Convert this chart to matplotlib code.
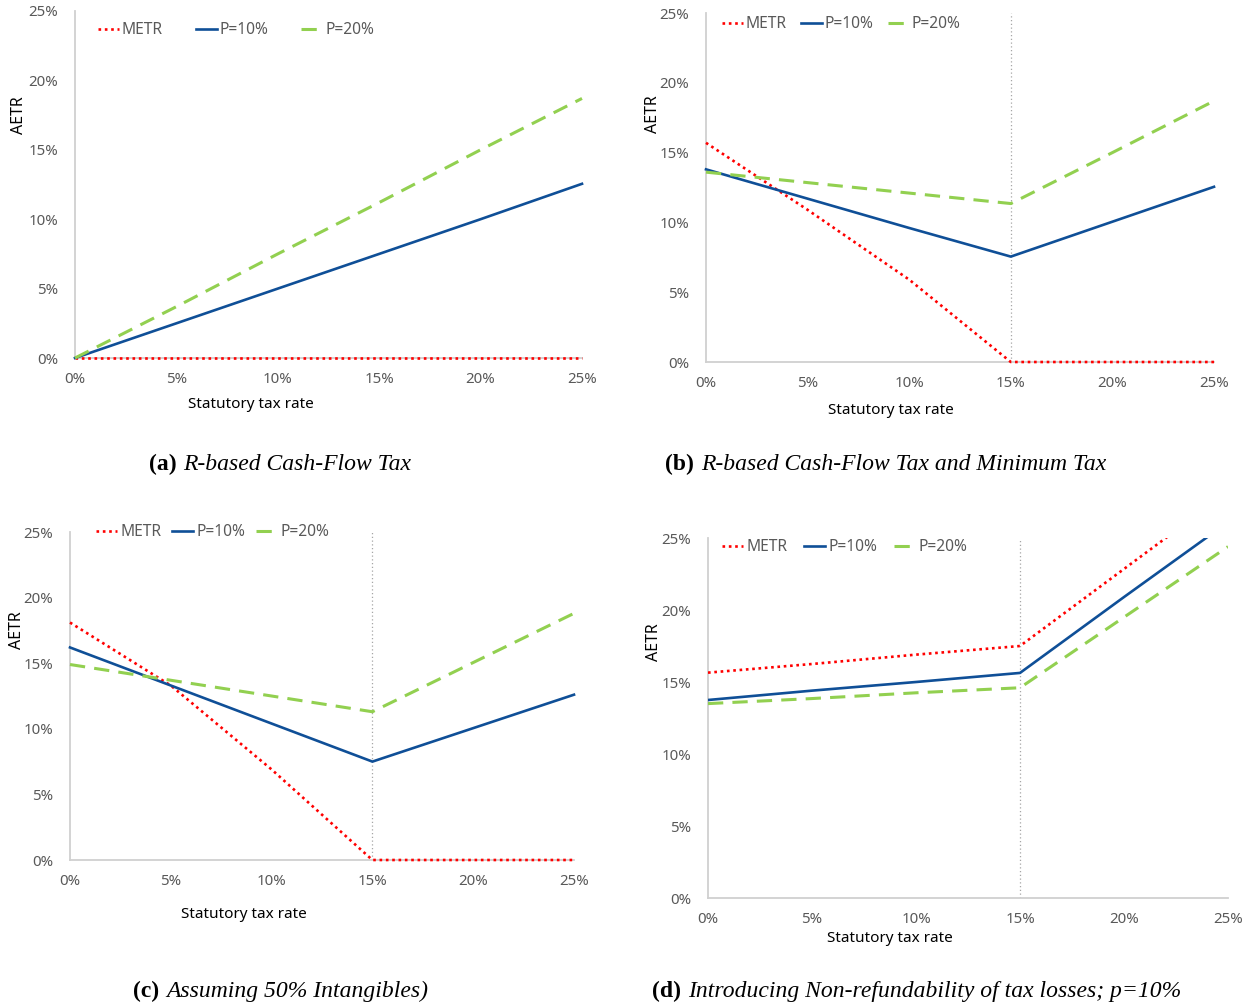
import matplotlib
matplotlib.use("Agg")
import matplotlib.pyplot as plt
from matplotlib.offsetbox import TextArea, HPacker, AnnotationBbox

plt.rcParams['font.family'] = ['Noto Sans', 'DejaVu Sans']

# ---------------- data ----------------
rates = [0, 5, 10, 15, 20, 25]          # statutory tax rate (%)
xticks = [0, 5, 10, 15, 20, 25]
yticks = [0, 5, 10, 15, 20, 25]
series_names = ["METR", "P=10%", "P=20%"]

# (a) R-based Cash-Flow Tax
a_metr = [0, 0, 0, 0, 0, 0]
a_p10 = [0, 2.5, 5.0, 7.5, 10.0, 12.55]
a_p20 = [0, 3.7, 7.5, 11.2, 15.0, 18.7]

# (b) R-based Cash-Flow Tax and Minimum Tax
b_metr = [15.7, 10.9, 5.9, 0, 0, 0]
b_p10 = [13.8, 11.7, 9.6, 7.55, 10.05, 12.55]
b_p20 = [13.6, 12.85, 12.1, 11.35, 15.0, 18.7]

# (c) Assuming 50% Intangibles
c_metr = [18.1, 13.3, 6.9, 0, 0, 0]
c_p10 = [16.2, 13.3, 10.4, 7.5, 10.05, 12.6]
c_p20 = [14.9, 13.7, 12.5, 11.3, 15.05, 18.8]

# (d) Introducing Non-refundability of tax losses; p=10%
d_metr = [15.65, 16.25, 16.9, 17.5, 22.85, 28.2]
d_p10 = [13.75, 14.4, 15.0, 15.63, 20.9, 26.1]
d_p20 = [13.5, 13.85, 14.25, 14.6, 19.5, 24.4]

min_tax_rate = 15

captions = [("(a)", "R-based Cash-Flow Tax"),
            ("(b)", "R-based Cash-Flow Tax and Minimum Tax"),
            ("(c)", "Assuming 50% Intangibles)"),
            ("(d)", "Introducing Non-refundability of tax losses; p=10%")]

# ---------------- layout ----------------
W, H = 1250, 1006
fig = plt.figure(figsize=(W / 100, H / 100), dpi=100)

def px_axes(l, r, t, b):
    return fig.add_axes([l / W, 1 - b / H, (r - l) / W, (b - t) / H])

panels = [
    dict(box=(75, 582, 11, 358), data=(a_metr, a_p10, a_p20), vline=False,
         leg=(0.045, 0.945, 2.1), xlab=(0.347, -46), ylab=(-56, 0.70),
         cap=(280, 464)),
    dict(box=(706, 1214, 13, 362), data=(b_metr, b_p10, b_p20), vline=True,
         leg=(0.031, 0.968, 0.9), xlab=(0.364, -48), ylab=(-53, 0.71),
         cap=(886, 464)),
    dict(box=(70, 574, 532, 860), data=(c_metr, c_p10, c_p20), vline=True,
         leg=(0.052, 1.0, 0.7), xlab=(0.345, -55), ylab=(-53, 0.70),
         cap=(281, 991)),
    dict(box=(708, 1228, 538, 898), data=(d_metr, d_p10, d_p20), vline=True,
         leg=(0.027, 0.975, 1.1), xlab=(0.35, -40), ylab=(-54, 0.71),
         cap=(917, 991)),
]

red = '#FF0000'
blue = '#0F4F97'
green = '#92D050'
grey_txt = '#595959'
spine_col = '#D0D0D0'

for p, cap in zip(panels, captions):
    l, r, t, b = p['box']
    ax = px_axes(l, r, t, b)
    hpx = b - t
    metr, p10, p20 = p['data']
    clip = max(max(metr), max(p10), max(p20)) > 25
    if p['vline']:
        ax.axvline(min_tax_rate, color='#A6A6A6', lw=0.9,
                   linestyle=(0, (1, 2)), zorder=1)
    ax.plot(rates, metr, color=red, lw=1.9, linestyle=(0, (1, 1.4)),
            label=series_names[0], zorder=4, clip_on=clip)
    ax.plot(rates, p10, color=blue, lw=1.9, linestyle='-',
            label=series_names[1], zorder=4, clip_on=clip)
    ax.plot(rates, p20, color=green, lw=2.2, linestyle=(0, (5.0, 3.0)),
            label=series_names[2], zorder=4, clip_on=clip)
    ax.set_xlim(0, 25)
    ax.set_ylim(0, 25)
    ax.set_xticks(xticks)
    ax.set_yticks(yticks)
    ax.set_xticklabels([f"{v}%" for v in xticks])
    ax.set_yticklabels([f"{v}%" for v in yticks])
    ax.tick_params(length=0, labelsize=10.8, labelcolor=grey_txt)
    ax.tick_params(axis='x', pad=10)
    ax.tick_params(axis='y', pad=12)
    for s in ['top', 'right']:
        ax.spines[s].set_visible(False)
    for s in ['left', 'bottom']:
        ax.spines[s].set_color(spine_col)
        ax.spines[s].set_linewidth(1.3)
        ax.spines[s].set_zorder(2)

    fx, fy_px = p['xlab']
    ax.text(fx, fy_px / hpx, "Statutory tax rate", transform=ax.transAxes,
            ha='center', va='center', fontsize=11, color='#000000')
    fyx_px, fyy = p['ylab']
    ax.text(fyx_px / (r - l), fyy, "AETR", transform=ax.transAxes,
            ha='center', va='center', rotation=90, fontsize=11.5,
            color='#000000')

    lx, ly, cs = p['leg']
    ax.legend(loc='center left', bbox_to_anchor=(lx, ly), ncol=3,
              frameon=False, fontsize=11.2, labelcolor=grey_txt,
              handlelength=1.35, handletextpad=0.2, columnspacing=cs,
              borderpad=0, borderaxespad=0)

    cx, cy = p['cap']
    ta1 = TextArea(cap[0], textprops=dict(family='Liberation Serif',
                                          fontweight='bold', fontsize=17))
    ta2 = TextArea(cap[1], textprops=dict(family='Liberation Serif',
                                          fontstyle='italic', fontsize=17))
    box = HPacker(children=[ta1, ta2], align='baseline', pad=0, sep=5)
    ab = AnnotationBbox(box, (cx / W, 1 - cy / H), xycoords='figure fraction',
                        frameon=False, box_alignment=(0.5, 0.5))
    fig.add_artist(ab)

fig.savefig("out.png", dpi=100)
